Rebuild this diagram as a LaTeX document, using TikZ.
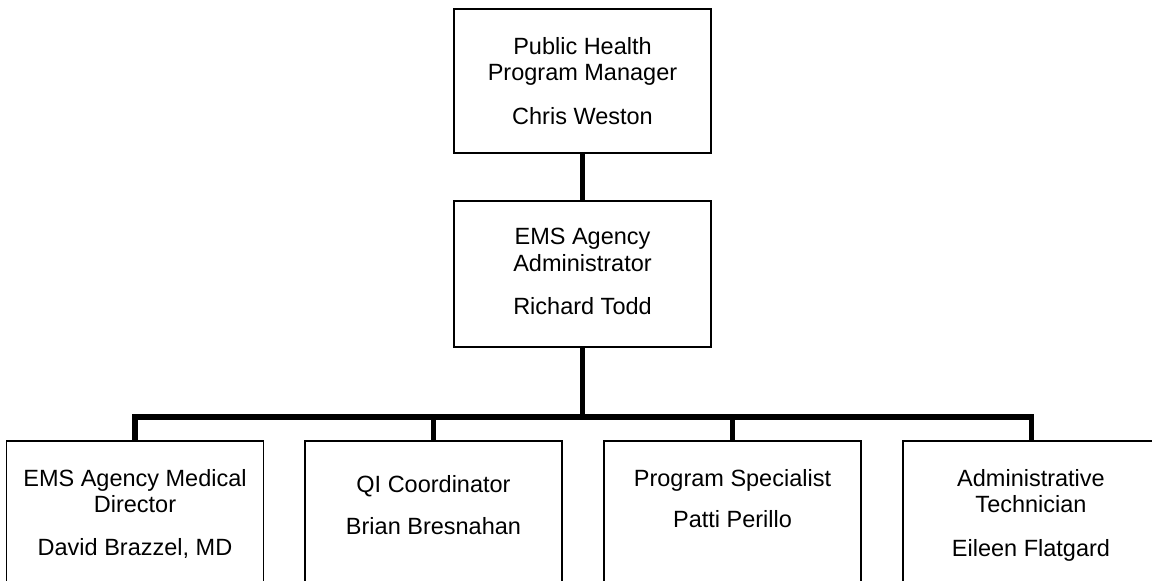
\documentclass[tikz,border=0pt]{standalone}
\usepackage{fontspec}
\setmainfont{Liberation Sans}
\begin{document}
\begin{tikzpicture}[x=0.5pt,y=-0.5pt,
  box/.style={draw=black,line width=0.65pt,rectangle,minimum width=128.5pt,inner sep=0pt,fill=white},
  txt/.style={anchor=base,inner sep=0pt,font=\fontsize{11.75}{13}\selectfont},
  conn/.style={draw=black,line width=2.8pt,line join=miter}]
\useasboundingbox (0,0) rectangle (1152,581);
\clip (0,0) rectangle (1152,581);
\fill[white] (0,0) rectangle (1152,581);
% boxes
\node[box,minimum height=72pt] (top) at (582.5,81) {};
\node[box,minimum height=73pt] (mid) at (582.5,274) {};
\node[box,minimum height=89.5pt] (b1) at (135,530.5) {};
\node[box,minimum height=89.5pt] (b2) at (433.5,530.5) {};
\node[box,minimum height=89.5pt] (b3) at (732.5,530.5) {};
\node[box,minimum height=89.5pt] (b4) at (1031.5,530.5) {};
\coordinate (bus) at (582.5,417);
% connectors
\draw[conn] (top.south) -- (mid.north);
\draw[conn] (mid.south) -- (bus);
\draw[conn] (b1.north) |- (b4.north |- bus) -- (b4.north);
\draw[conn] (b2.north) -- (b2.north |- bus);
\draw[conn] (b3.north) -- (b3.north |- bus);
% texts
\node[txt] (t1) at (582.5,55) {Public Health};
\node[txt] (t2) at (582.5,81) {Program Manager};
\node[txt] (t3) at (582.5,125) {Chris Weston};
\node[txt] (m1) at (582.5,245) {EMS Agency};
\node[txt] (m2) at (582.5,272) {Administrator};
\node[txt] (m3) at (582.5,315) {Richard Todd};
\node[txt] (a1) at (135,487) {EMS Agency Medical};
\node[txt] (a2) at (135,513) {Director};
\node[txt] (a3) at (135,556) {David Brazzel, MD};
\node[txt] (q1) at (433.5,493) {QI Coordinator};
\node[txt] (q2) at (433.5,535) {Brian Bresnahan};
\node[txt] (p1) at (732.5,487) {Program Specialist};
\node[txt] (p2) at (732.5,528) {Patti Perillo};
\node[txt] (e1) at (1031,487) {Administrative};
\node[txt] (e2) at (1031,513) {Technician};
\node[txt] (e3) at (1031,557) {Eileen Flatgard};
\end{tikzpicture}
\end{document}
